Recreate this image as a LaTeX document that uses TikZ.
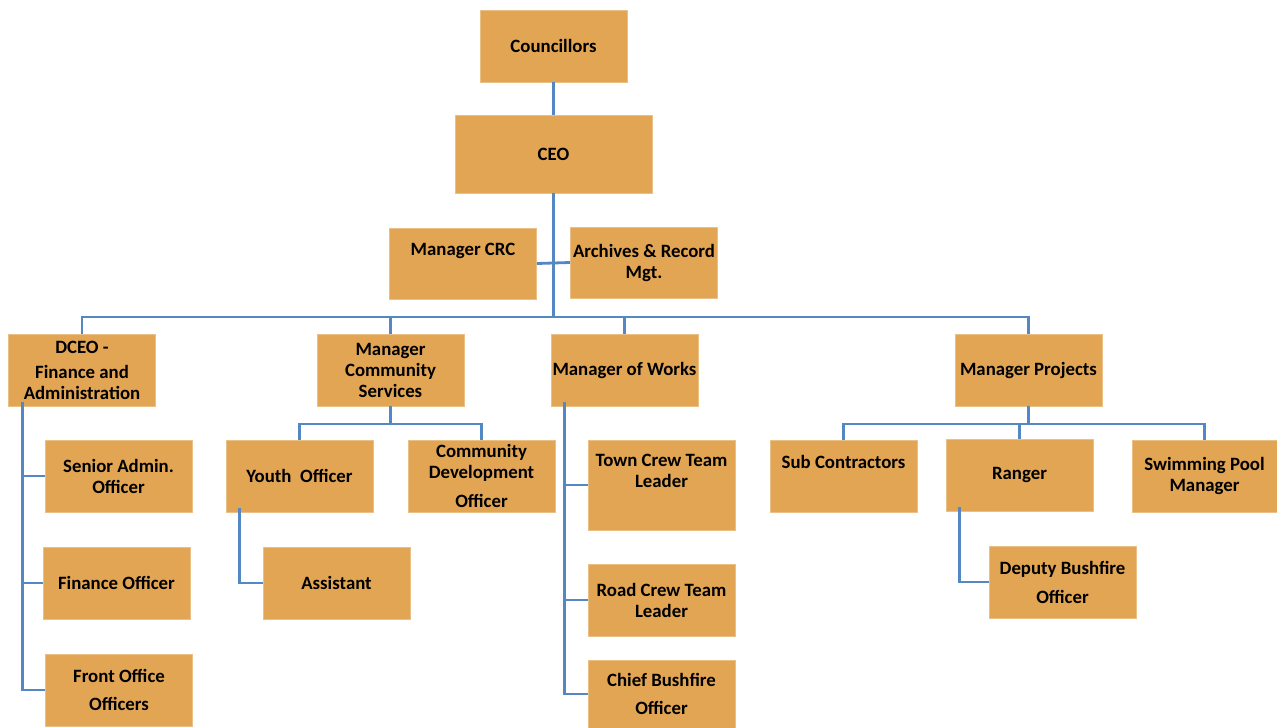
\documentclass[tikz,border=0pt]{standalone}
\usepackage{fontspec}
\setmainfont{Carlito}
\definecolor{boxfill}{RGB}{226,165,83}
\definecolor{linkblue}{RGB}{84,136,196}
\begin{document}
\begin{tikzpicture}[x=1pt, y=-1pt,
    box/.style = {fill=boxfill, draw=boxfill!70!white, line width=0.8pt, minimum width=147pt, minimum height=72pt,
                  inner sep=0pt, align=center, font=\fontsize{18.8}{21}\selectfont\bfseries},
    link/.style = {draw=linkblue, line width=2.8pt}]
    \useasboundingbox (0,0) rectangle (1277,728);
        \node[box] (coun) at (553.5,46) {Councillors};
        \node[box, minimum width=197pt, minimum height=78pt] (ceo) at (553.5,154) {CEO};
        \node[box, minimum height=71pt] (crc) at (463,263.5) {Manager CRC\\[8pt]\mbox{}};
        \node[box, minimum height=71pt] (arch) at (644,262.5) {Archives \& Record\\Mgt.};
        \node[box] (dceo) at (82,370) {DCEO -\\[4pt]Finance and\\Administration};
        \node[box] (mcs) at (390.5,370) {Manager\\Community\\Services};
        \node[box] (works) at (624.5,370) {Manager of Works};
        \node[box] (proj) at (1028.5,370) {Manager Projects};
        \node[box] (senior) at (118.5,476) {Senior Admin.\\Officer};
        \node[box] (finance) at (116.5,583) {Finance Officer};
        \node[box] (front) at (119,690) {Front Office\\[7pt]Officers};
        \node[box] (youth) at (299.5,476) {Youth\ \ Officer};
        \node[box] (cdo) at (481.5,476) {Community\\Development\\[8pt]Officer};
        \node[box] (assist) at (336.5,583) {Assistant};
        \node[box, minimum height=90pt] (town) at (661.5,485) {Town Crew Team\\Leader\\[8pt]\mbox{}};
        \node[box] (road) at (661.5,600) {Road Crew Team\\Leader};
        \node[box, minimum height=68pt] (chief) at (661.5,694) {Chief Bushfire\\[7pt]Officer};
        \node[box] (sub) at (843.5,476) {Sub Contractors\\[8pt]\mbox{}};
        \node[box] (ranger) at (1019.5,475) {Ranger};
        \node[box, minimum width=145pt] (swim) at (1204.5,476) {Swimming Pool\\Manager};
        \node[box] (deputy) at (1062.5,582) {Deputy Bushfire\\[8pt]Officer};
        \coordinate (bus) at (553.5,317);
        \coordinate (mcsbus) at (390.5,424);
        \coordinate (projbus) at (1028.5,424);
        \draw[link] (coun) -- (ceo);
        \draw[link] (ceo) -- (bus);
        \draw[link] (crc.east) -- (arch.west);
        \draw[link] (dceo.north) |- (bus) -| (proj.north);
        \draw[link] (mcs.north) -- (mcs.north |- bus);
        \draw[link] (works.north) -- (works.north |- bus);
        \draw[link] (mcs) -- (mcsbus);
        \draw[link] (youth.north) |- (mcsbus) -| (cdo.north);
        \draw[link] (proj) -- (projbus);
        \draw[link] (sub.north) |- (projbus) -| (swim.north);
        \draw[link] (ranger.north) -- (ranger.north |- projbus);
        \draw[link] ([xshift=14pt, yshift=4pt]dceo.south west) |- (front.west);
        \draw[link] ([xshift=14pt]dceo.south west |- senior.west) -- (senior.west);
        \draw[link] ([xshift=14pt]dceo.south west |- finance.west) -- (finance.west);
        \draw[link] ([xshift=14pt, yshift=4pt]works.south west) |- (chief.west);
        \draw[link] ([xshift=14pt]works.south west |- town.west) -- (town.west);
        \draw[link] ([xshift=14pt]works.south west |- road.west) -- (road.west);
        \draw[link] ([xshift=14pt, yshift=4pt]youth.south west) |- (assist.west);
        \draw[link] ([xshift=14pt, yshift=4pt]ranger.south west) |- (deputy.west);
\end{tikzpicture}
\end{document}
